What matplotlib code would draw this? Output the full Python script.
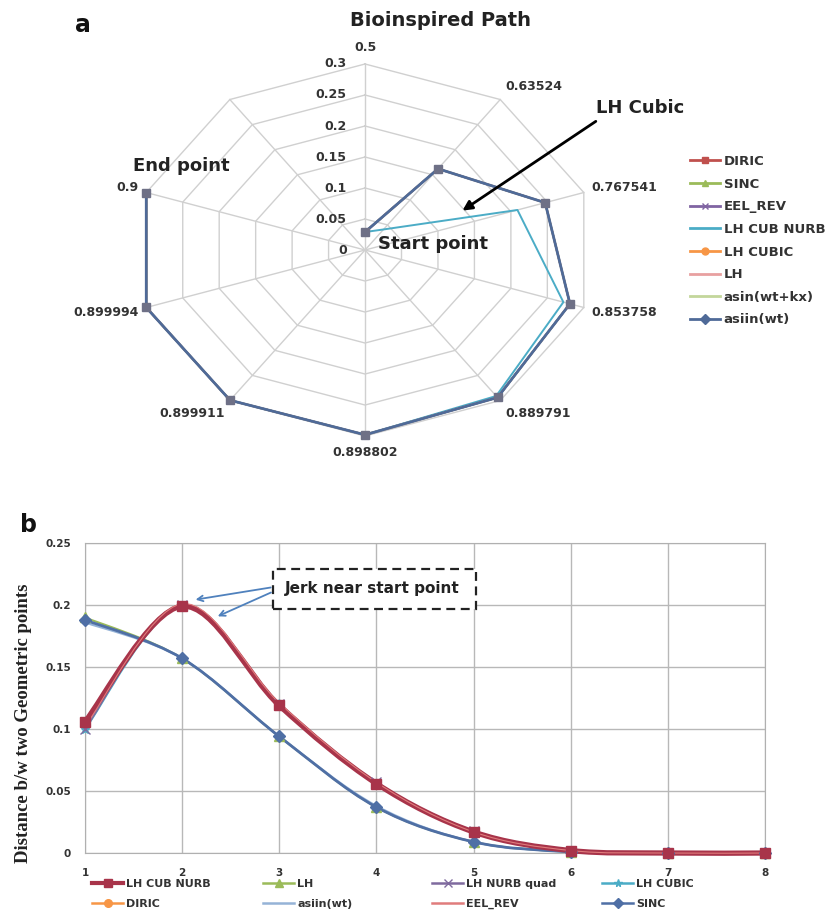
import numpy as np
import matplotlib
matplotlib.use('Agg')
import matplotlib.pyplot as plt
from matplotlib.path import Path
from matplotlib.patches import PathPatch, Rectangle
from matplotlib.lines import Line2D

plt.rcParams['font.family'] = ['DejaVu Sans']
plt.rcParams['font.weight'] = 'bold'

nan = np.nan

# ---------------- panel a : radar data ----------------
radar_cats  = ['0.5', '0.63524', '0.767541', '0.853758', '0.889791',
               '0.898802', '0.899911', '0.899994', '0.9', '']
radar_ticks = [0, 0.05, 0.1, 0.15, 0.2, 0.25, 0.3]
radar_tick_labels = ['0', '0.05', '0.1', '0.15', '0.2', '0.25', '0.3']

radar_names = ['DIRIC', 'SINC', 'EEL_REV', 'LH CUB NURB', 'LH CUBIC',
               'LH', 'asin(wt+kx)', 'asiin(wt)']
radar_main  = [0.029, 0.162, 0.247, 0.281, 0.294, 0.298, 0.2995, 0.3, 0.3, nan]
radar_nurb  = [0.029, 0.041, 0.209, 0.272, 0.291, 0.298, 0.2995, 0.3, 0.3, nan]
radar_vals  = {
  'DIRIC'       : radar_main,
  'SINC'        : radar_main,
  'EEL_REV'     : radar_main,
  'LH CUB NURB' : radar_nurb,
  'LH CUBIC'    : radar_main,
  'LH'          : radar_main,
  'asin(wt+kx)' : radar_main,
  'asiin(wt)'   : radar_main,
}
radar_color = {
  'DIRIC'       : '#c0504d',
  'SINC'        : '#9bbb59',
  'EEL_REV'     : '#8064a2',
  'LH CUB NURB' : '#4bacc6',
  'LH CUBIC'    : '#f79646',
  'LH'          : '#e8a0a0',
  'asin(wt+kx)' : '#c3d69b',
  'asiin(wt)'   : '#4f6a98',
}
radar_marker = {
  'DIRIC' : 's', 'SINC' : '^', 'EEL_REV' : 'x', 'LH CUB NURB' : 'None',
  'LH CUBIC' : 'o', 'LH' : 'None', 'asin(wt+kx)' : 'None', 'asiin(wt)' : 'D',
}

# ---------------- panel b : distance data ----------------
steps = [1, 2, 3, 4, 5, 6, 7, 8]
dist_names = ['LH CUB NURB', 'DIRIC', 'LH', 'asiin(wt)',
              'LH NURB quad', 'EEL_REV', 'LH CUBIC', 'SINC']
dist_vals = {
  'LH CUB NURB'  : [0.106, 0.199, 0.119, 0.056, 0.017, 0.002, 0.0, 0.0],
  'DIRIC'        : [0.106, 0.199, 0.119, 0.056, 0.017, 0.002, 0.0, 0.0],
  'LH'           : [0.190, 0.157, 0.094, 0.037, 0.009, 0.001, 0.0, 0.0],
  'asiin(wt)'    : [0.186, 0.157, 0.094, 0.038, 0.009, 0.001, 0.0, 0.0],
  'LH NURB quad' : [0.100, 0.200, 0.120, 0.057, 0.018, 0.002, 0.0, 0.0],
  'EEL_REV'      : [0.102, 0.201, 0.121, 0.057, 0.017, 0.002, 0.0, 0.0],
  'LH CUBIC'     : [0.100, 0.199, 0.120, 0.056, 0.017, 0.002, 0.0, 0.0],
  'SINC'         : [0.188, 0.157, 0.094, 0.037, 0.009, 0.001, 0.0, 0.0],
}
dist_color = {
  'LH CUB NURB'  : '#a8344a',
  'DIRIC'        : '#f79646',
  'LH'           : '#9bbb59',
  'asiin(wt)'    : '#95b3d7',
  'LH NURB quad' : '#7f6a9e',
  'EEL_REV'      : '#e07c7c',
  'LH CUBIC'     : '#4bacc6',
  'SINC'         : '#4f6fa5',
}
dist_marker = {
  'LH CUB NURB' : 's', 'DIRIC' : 'o', 'LH' : '^', 'asiin(wt)' : 'None',
  'LH NURB quad' : 'x', 'EEL_REV' : 'None', 'LH CUBIC' : '*', 'SINC' : 'D',
}
dist_lw = {
  'LH CUB NURB' : 3.8, 'DIRIC' : 1.5, 'LH' : 1.5, 'asiin(wt)' : 1.5,
  'LH NURB quad' : 1.0, 'EEL_REV' : 0.8, 'LH CUBIC' : 1.5, 'SINC' : 2.0,
}
dist_order = ['DIRIC', 'LH CUBIC', 'LH', 'asiin(wt)', 'SINC',
              'LH NURB quad', 'LH CUB NURB', 'EEL_REV']
y_ticks = [0, 0.05, 0.1, 0.15, 0.2, 0.25]
y_tick_labels = ['0', '0.05', '0.1', '0.15', '0.2', '0.25']

#-------------------------------------------------------------------------
# smooth line like the spreadsheet "smoothed line" option (bezier path)
#-------------------------------------------------------------------------

def smooth_path( xs, ys ):
  xs = np.asarray( xs, float )
  ys = np.asarray( ys, float )
  n  = len( xs )
  verts = [ ( xs[0], ys[0] ) ]
  codes = [ Path.MOVETO ]
  for i in range( n - 1 ):
    p0 = np.array([ xs[max(i-1, 0)],   ys[max(i-1, 0)] ])
    p1 = np.array([ xs[i],             ys[i] ])
    p2 = np.array([ xs[i+1],           ys[i+1] ])
    p3 = np.array([ xs[min(i+2, n-1)], ys[min(i+2, n-1)] ])
    c1 = p1 + ( p2 - p0 ) / 6.0
    c2 = p2 - ( p3 - p1 ) / 6.0
    verts += [ tuple(c1), tuple(c2), tuple(p2) ]
    codes += [ Path.CURVE4 ] * 3
  return Path( verts, codes )

fig = plt.figure( figsize=(8.27, 9.19), dpi=100 )

#-------------------------------------------------------------------------
# panel a : radar drawn on a plain axes (stretched like the original)
#-------------------------------------------------------------------------

axr = fig.add_axes([ 0.1169, 0.4918, 0.649, 0.4723 ])
axr.set_xlim( -0.35, 0.35 )
axr.set_ylim( -0.35, 0.35 )
axr.axis( 'off' )

ncat   = len( radar_cats )
angles = np.deg2rad( 90 - 360.0 / ncat * np.arange( ncat ) )
cosa, sina = np.cos( angles ), np.sin( angles )

grid_c = '#d0d0d0'
for r in radar_ticks[1:]:
  axr.plot( np.append( r * cosa, r * cosa[0] ), np.append( r * sina, r * sina[0] ),
            color=grid_c, lw=1.0, zorder=1 )
rmax = radar_ticks[-1]
for c, s in zip( cosa, sina ):
  axr.plot( [0, rmax * c], [0, rmax * s], color=grid_c, lw=1.0, zorder=1 )

for r, lab in zip( radar_ticks, radar_tick_labels ):
  axr.text( -0.024, r, lab, ha='right', va='center', fontsize=9, color='#333333' )

for lab, c, s in zip( radar_cats, cosa, sina ):
  if not lab:
    continue
  if c > 0.1:
    ha = 'left'
  elif c < -0.1:
    ha = 'right'
  else:
    ha = 'center'
  axr.annotate( lab, ( rmax * c, rmax * s ), xytext=( 6 * c, 12 * s ),
                textcoords='offset points', ha=ha, va='center',
                fontsize=9, color='#333333', annotation_clip=False )

for name in radar_names:
  v = np.array( radar_vals[name] )
  lw = 2.0 if name == 'asiin(wt)' else 1.4
  axr.plot( v * cosa, v * sina, color=radar_color[name], lw=lw, zorder=3 )
v = np.array( radar_main )
axr.plot( v * cosa, v * sina, ls='none', marker='s', ms=6,
          color='#6e7086', zorder=4 )

axr.annotate( '', xy=( 0.124, 0.061 ), xytext=( 0.304, 0.21 ),
              arrowprops=dict( arrowstyle='-|>', color='black', lw=2.0,
                               mutation_scale=14 ), annotation_clip=False )
axr.text( 0.359, 0.229, 'LH Cubic', ha='center', va='center', fontsize=13,
          color='#222222', clip_on=False )
axr.text( -0.240, 0.135, 'End point', ha='center', va='center', fontsize=13,
          color='#222222' )
axr.text( 0.089, 0.010, 'Start point', ha='center', va='center', fontsize=13,
          color='#222222' )

fig.text( 0.533, 0.978, 'Bioinspired Path', ha='center', va='center',
          fontsize=14, color='#222222' )
fig.text( 0.100, 0.973, 'a', ha='center', va='center', fontsize=17, color='#111111' )

handles = [ Line2D( [], [], color=radar_color[n], lw=2, marker=radar_marker[n], ms=5 )
            for n in radar_names ]
fig.legend( handles, radar_names, loc='upper left',
            bbox_to_anchor=( 690 / 827, 1 - 155 / 919 ), frameon=False,
            fontsize=9.5, labelspacing=0.73, handlelength=2.3,
            handletextpad=0.25, borderpad=0, borderaxespad=0, labelcolor='#333333' )

#-------------------------------------------------------------------------
# panel b : distance between geometric points
#-------------------------------------------------------------------------

ax = fig.add_axes([ 0.1028, 0.0718, 0.8222, 0.3373 ])
ax.set_xlim( 1, 8 )
ax.set_ylim( 0, 0.25 )
ax.set_xticks( steps )
ax.set_yticks( y_ticks )
ax.set_yticklabels( y_tick_labels )
ax.grid( True, color='#b8b8b8', lw=1.0 )
ax.set_axisbelow( True )
for sp in ax.spines.values():
  sp.set_color( '#b0b0b0' )
ax.tick_params( length=0, labelsize=7.5, colors='#333333' )
ax.tick_params( axis='x', pad=11 )
ax.tick_params( axis='y', pad=10 )

for name in dist_order:
  y = dist_vals[name]
  patch = PathPatch( smooth_path( steps, y ), facecolor='none',
                     edgecolor=dist_color[name], lw=dist_lw[name], zorder=3 )
  patch.set_clip_on( False )
  ax.add_patch( patch )
  if dist_marker[name] != 'None':
    ax.plot( steps, y, ls='none', marker=dist_marker[name], ms=6.5,
             color=dist_color[name], zorder=4, clip_on=False )

ax.set_ylabel( 'Distance b/w two Geometric points', family='Liberation Serif',
               fontsize=13.5, fontweight='bold', color='#222222' )
ax.yaxis.set_label_coords( -0.078, 0.42 )

ax.add_patch( Rectangle( ( 2.94, 0.197 ), 2.09, 0.032, facecolor='white',
                         edgecolor='#222222', lw=1.6, ls=(0, (4, 2.5)), zorder=5 ) )
ax.text( 3.96, 0.2135, 'Jerk near start point', ha='center', va='center',
         fontsize=11, color='#222222', zorder=6 )
for head, tail in [ ( (2.11, 0.204), (2.94, 0.2145) ), ( (2.34, 0.190), (2.94, 0.211) ) ]:
  ax.annotate( '', xy=head, xytext=tail,
               arrowprops=dict( arrowstyle='->', color='#4f81bd', lw=1.3 ), zorder=6 )

fig.text( 28 / 827, 1 - 525 / 919, 'b', ha='center', va='center', fontsize=17,
          color='#111111' )

col_x = [ 92, 263, 432, 602 ]
for k in range( 4 ):
  names = dist_names[ 2 * k : 2 * k + 2 ]
  hs = [ Line2D( [], [], color=dist_color[n], lw=3 if n == 'LH CUB NURB' else 1.8,
                 marker=dist_marker[n], ms=5.5 ) for n in names ]
  fig.legend( hs, names, loc='upper left',
              bbox_to_anchor=( col_x[k] / 827, 1 - 879 / 919 ), frameon=False,
              fontsize=8, labelspacing=0.9, handlelength=2.8, handletextpad=0.27,
              borderpad=0, borderaxespad=0, labelcolor='#333333' )

fig.savefig( 'out.png', dpi=100 )
